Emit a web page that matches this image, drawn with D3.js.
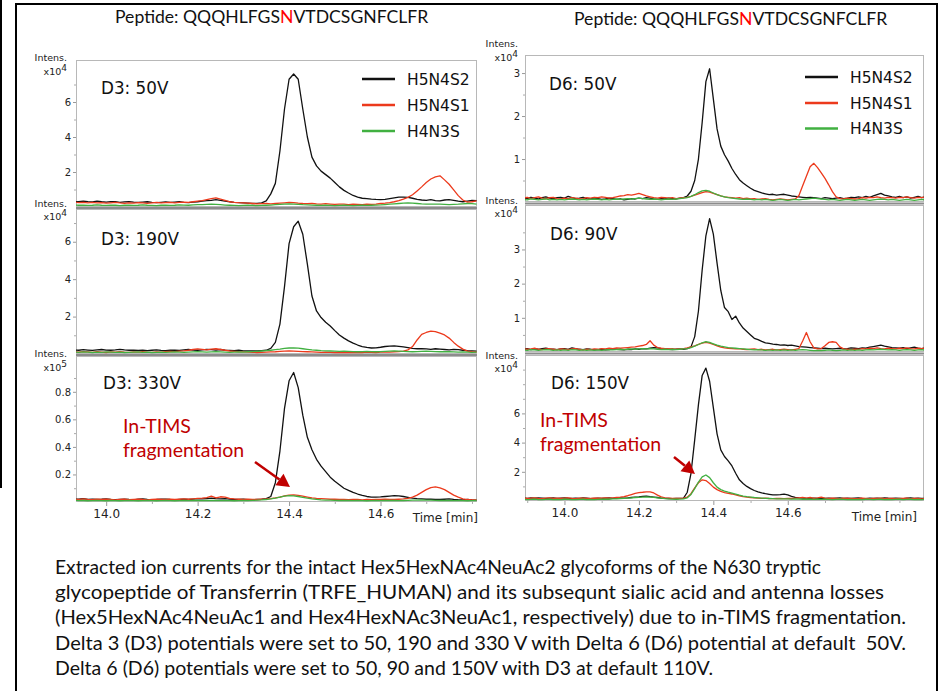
<!DOCTYPE html>
<html lang="en">
<head>
<meta charset="UTF-8">
<title>In-TIMS fragmentation EICs</title>
<script src="https://cdn.jsdelivr.net/npm/d3@7"></script>
<style>
    body { margin: 0; background: #fff; }
    svg { display: block; }
    .tick text { font-family: "DejaVu Sans", sans-serif; }
    .caption { font-family: Lato, "Open Sans", sans-serif; white-space: pre; }
</style>
</head>
<body>
<svg width="943" height="691"></svg>
<script>
// ---------------- data (intensity) ----------------
const seriesNames = ["H5N4S2", "H5N4S1", "H4N3S"];
const seriesColors = ["#111111", "#ec3a1c", "#41b041"];

// retention time grids [min]
const timeLeft = [
    13.93,13.94,13.95,13.96,13.97,13.98,13.99,14.00,14.01,14.02,
    14.03,14.04,14.05,14.06,14.07,14.08,14.09,14.10,14.11,14.12,
    14.13,14.14,14.15,14.16,14.17,14.18,14.19,14.20,14.21,14.22,
    14.23,14.24,14.25,14.26,14.27,14.28,14.29,14.30,14.31,14.32,
    14.33,14.34,14.35,14.36,14.37,14.38,14.39,14.40,14.41,14.42,
    14.43,14.44,14.45,14.46,14.47,14.48,14.49,14.50,14.51,14.52,
    14.53,14.54,14.55,14.56,14.57,14.58,14.59,14.60,14.61,14.62,
    14.63,14.64,14.65,14.66,14.67,14.68,14.69,14.70,14.71,14.72,
    14.73,14.74,14.75,14.76,14.77,14.78,14.79,14.80,14.81];
const timeRight = [
    13.89,13.90,13.91,13.92,13.93,13.94,13.95,13.96,13.97,13.98,
    13.99,14.00,14.01,14.02,14.03,14.04,14.05,14.06,14.07,14.08,
    14.09,14.10,14.11,14.12,14.13,14.14,14.15,14.16,14.17,14.18,
    14.19,14.20,14.21,14.22,14.23,14.24,14.25,14.26,14.27,14.28,
    14.29,14.30,14.31,14.32,14.33,14.34,14.35,14.36,14.37,14.38,
    14.39,14.40,14.41,14.42,14.43,14.44,14.45,14.46,14.47,14.48,
    14.49,14.50,14.51,14.52,14.53,14.54,14.55,14.56,14.57,14.58,
    14.59,14.60,14.61,14.62,14.63,14.64,14.65,14.66,14.67,14.68,
    14.69,14.70,14.71,14.72,14.73,14.74,14.75,14.76,14.77,14.78,
    14.79,14.80,14.81,14.82,14.83,14.84,14.85,14.86,14.87,14.88,
    14.89,14.90,14.91,14.92,14.93,14.94,14.95,14.96,14.97];

// D3: 50V  (x10^4)
const d3v50_S2 = [
    0.32,0.30,0.34,0.31,0.29,0.33,0.30,0.28,0.31,0.30,
    0.27,0.29,0.31,0.28,0.26,0.28,0.30,0.27,0.25,0.27,
    0.29,0.26,0.28,0.30,0.27,0.25,0.28,0.30,0.33,0.36,
    0.38,0.42,0.38,0.33,0.30,0.27,0.25,0.24,0.22,0.20,
    0.21,0.24,0.35,0.75,1.35,3.2,5.6,7.3,7.6,7.3,
    5.6,4.0,2.85,2.35,2.05,1.85,1.65,1.4,1.15,0.95,
    0.8,0.66,0.57,0.5,0.48,0.45,0.43,0.42,0.44,0.48,
    0.52,0.56,0.57,0.55,0.5,0.44,0.4,0.38,0.42,0.37,
    0.35,0.4,0.42,0.38,0.33,0.3,0.34,0.38,0.36];
const d3v50_S1 = [
    0.28,0.25,0.27,0.24,0.26,0.23,0.25,0.22,0.24,0.26,
    0.23,0.21,0.24,0.22,0.25,0.23,0.21,0.24,0.26,0.23,
    0.25,0.27,0.24,0.26,0.28,0.27,0.3,0.33,0.36,0.42,
    0.48,0.52,0.45,0.38,0.3,0.27,0.25,0.24,0.22,0.2,
    0.18,0.19,0.2,0.18,0.2,0.22,0.24,0.26,0.25,0.22,
    0.2,0.19,0.21,0.18,0.17,0.19,0.17,0.15,0.17,0.16,
    0.14,0.16,0.15,0.14,0.16,0.15,0.17,0.2,0.22,0.25,
    0.3,0.36,0.45,0.55,0.7,0.92,1.15,1.4,1.6,1.72,
    1.78,1.55,1.3,0.98,0.65,0.4,0.28,0.3,0.35];
const d3v50_N3 = [
    0.12,0.1,0.11,0.09,0.1,0.12,0.1,0.09,0.11,0.1,
    0.08,0.1,0.11,0.09,0.1,0.12,0.1,0.09,0.08,0.1,
    0.11,0.09,0.1,0.12,0.11,0.1,0.12,0.13,0.14,0.15,
    0.16,0.15,0.13,0.11,0.1,0.09,0.08,0.09,0.1,0.09,
    0.08,0.09,0.1,0.11,0.13,0.15,0.17,0.18,0.17,0.15,
    0.13,0.12,0.11,0.1,0.09,0.1,0.09,0.08,0.09,0.1,
    0.09,0.08,0.09,0.1,0.09,0.1,0.11,0.12,0.14,0.16,
    0.18,0.2,0.22,0.23,0.22,0.2,0.18,0.17,0.16,0.17,
    0.16,0.15,0.14,0.15,0.16,0.18,0.2,0.19,0.17];

// D3: 190V  (x10^4)
const d3v190_S2 = [
    0.22,0.2,0.23,0.21,0.19,0.22,0.24,0.21,0.2,0.22,
    0.25,0.22,0.2,0.21,0.19,0.2,0.18,0.2,0.22,0.19,
    0.18,0.2,0.21,0.19,0.22,0.24,0.21,0.2,0.22,0.25,
    0.23,0.21,0.24,0.2,0.19,0.18,0.2,0.17,0.16,0.17,
    0.16,0.18,0.2,0.3,0.62,1.6,3.6,5.9,6.8,7.1,
    6.4,4.8,3.1,2.3,1.95,1.7,1.5,1.25,1.02,0.85,
    0.7,0.58,0.48,0.4,0.35,0.32,0.33,0.36,0.4,0.42,
    0.43,0.41,0.38,0.34,0.3,0.28,0.29,0.27,0.25,0.28,
    0.26,0.24,0.22,0.25,0.23,0.2,0.18,0.17,0.15];
const d3v190_S1 = [
    0.12,0.1,0.13,0.11,0.09,0.12,0.1,0.08,0.11,0.1,
    0.12,0.1,0.09,0.11,0.1,0.12,0.1,0.09,0.11,0.1,
    0.12,0.14,0.13,0.15,0.17,0.2,0.24,0.27,0.25,0.22,
    0.26,0.28,0.24,0.2,0.16,0.14,0.12,0.11,0.1,0.09,
    0.08,0.09,0.1,0.11,0.12,0.14,0.15,0.16,0.15,0.14,
    0.13,0.12,0.11,0.1,0.09,0.1,0.09,0.08,0.09,0.08,
    0.07,0.08,0.09,0.08,0.1,0.09,0.08,0.1,0.11,0.1,
    0.12,0.13,0.15,0.22,0.4,0.75,1.05,1.15,1.22,1.2,
    1.12,1.02,0.85,0.62,0.42,0.26,0.15,0.12,0.1];
const d3v190_N3 = [
    0.1,0.09,0.11,0.1,0.08,0.1,0.09,0.11,0.1,0.09,
    0.1,0.08,0.09,0.1,0.11,0.09,0.1,0.08,0.09,0.1,
    0.09,0.1,0.11,0.1,0.09,0.1,0.11,0.12,0.11,0.1,
    0.11,0.12,0.11,0.1,0.09,0.1,0.11,0.1,0.12,0.13,
    0.14,0.16,0.18,0.2,0.23,0.26,0.3,0.32,0.33,0.31,
    0.28,0.25,0.22,0.2,0.18,0.17,0.16,0.15,0.14,0.15,
    0.14,0.13,0.12,0.13,0.14,0.13,0.12,0.13,0.14,0.15,
    0.16,0.15,0.14,0.13,0.12,0.13,0.14,0.15,0.14,0.13,
    0.12,0.13,0.12,0.11,0.1,0.11,0.1,0.09,0.1];

// D3: 330V  (x10^5)
const d3v330_S2 = [
    0.022,0.02,0.024,0.019,0.021,0.018,0.02,0.023,0.019,0.017,
    0.019,0.021,0.018,0.016,0.02,0.022,0.019,0.017,0.018,0.02,
    0.021,0.018,0.016,0.019,0.02,0.018,0.021,0.024,0.022,0.025,
    0.028,0.024,0.022,0.025,0.021,0.019,0.018,0.02,0.017,0.016,
    0.018,0.02,0.024,0.04,0.14,0.37,0.68,0.88,0.94,0.83,
    0.63,0.47,0.38,0.31,0.26,0.22,0.18,0.15,0.125,0.1,
    0.085,0.07,0.058,0.048,0.04,0.036,0.035,0.037,0.04,0.043,
    0.046,0.044,0.04,0.034,0.028,0.024,0.022,0.02,0.021,0.019,
    0.018,0.02,0.022,0.019,0.017,0.016,0.018,0.015,0.014];
const d3v330_S1 = [
    0.02,0.018,0.022,0.019,0.017,0.02,0.018,0.021,0.019,0.016,
    0.018,0.02,0.017,0.019,0.021,0.018,0.016,0.019,0.02,0.018,
    0.019,0.021,0.018,0.02,0.022,0.02,0.023,0.026,0.028,0.032,
    0.042,0.03,0.038,0.036,0.027,0.022,0.02,0.018,0.02,0.019,
    0.018,0.02,0.022,0.025,0.03,0.036,0.044,0.05,0.052,0.048,
    0.042,0.036,0.03,0.026,0.024,0.022,0.02,0.021,0.019,0.018,
    0.017,0.019,0.018,0.016,0.018,0.017,0.019,0.018,0.02,0.019,
    0.018,0.02,0.022,0.026,0.035,0.05,0.07,0.09,0.105,0.11,
    0.102,0.09,0.07,0.05,0.035,0.022,0.018,0.016,0.015];
const d3v330_N3 = [
    0.012,0.01,0.011,0.009,0.01,0.012,0.01,0.009,0.011,0.01,
    0.009,0.01,0.011,0.01,0.009,0.01,0.011,0.01,0.009,0.01,
    0.011,0.01,0.009,0.01,0.011,0.01,0.012,0.011,0.01,0.011,
    0.012,0.011,0.01,0.011,0.01,0.009,0.01,0.011,0.01,0.012,
    0.013,0.015,0.018,0.022,0.028,0.035,0.042,0.046,0.045,0.04,
    0.034,0.028,0.023,0.019,0.016,0.014,0.013,0.012,0.011,0.012,
    0.011,0.01,0.011,0.01,0.009,0.01,0.011,0.01,0.011,0.012,
    0.011,0.01,0.011,0.012,0.013,0.014,0.015,0.014,0.013,0.012,
    0.011,0.012,0.011,0.01,0.011,0.01,0.009,0.01,0.011];

// D6: 50V  (x10^4)
const d6v50_S2 = [
    0.1,0.08,0.11,0.09,0.07,0.1,0.12,0.09,0.08,0.1,
    0.11,0.09,0.13,0.1,0.08,0.09,0.11,0.08,0.07,0.09,
    0.08,0.06,0.07,0.09,0.08,0.06,0.07,0.05,0.06,0.08,
    0.07,0.09,0.08,0.1,0.09,0.07,0.06,0.08,0.07,0.09,
    0.08,0.07,0.09,0.1,0.14,0.25,0.5,1.0,1.85,2.8,
    3.1,2.4,1.7,1.3,1.1,0.95,0.78,0.64,0.52,0.44,
    0.38,0.32,0.27,0.24,0.21,0.19,0.17,0.18,0.16,0.17,
    0.18,0.16,0.14,0.13,0.12,0.11,0.1,0.11,0.1,0.09,
    0.08,0.1,0.09,0.08,0.09,0.1,0.08,0.09,0.11,0.1,
    0.12,0.1,0.13,0.11,0.14,0.17,0.2,0.16,0.14,0.12,
    0.11,0.13,0.1,0.12,0.09,0.11,0.13,0.1,0.12];
const d6v50_S1 = [
    0.09,0.11,0.08,0.1,0.12,0.09,0.08,0.1,0.11,0.08,
    0.07,0.09,0.08,0.1,0.09,0.07,0.08,0.1,0.09,0.11,
    0.1,0.12,0.11,0.09,0.1,0.12,0.14,0.15,0.17,0.16,
    0.18,0.2,0.17,0.14,0.12,0.1,0.09,0.11,0.1,0.09,
    0.1,0.08,0.09,0.1,0.11,0.13,0.16,0.19,0.22,0.24,
    0.23,0.2,0.17,0.14,0.12,0.11,0.1,0.09,0.1,0.08,
    0.09,0.07,0.08,0.06,0.07,0.08,0.06,0.05,0.06,0.07,
    0.06,0.05,0.06,0.07,0.15,0.38,0.6,0.82,0.9,0.8,
    0.68,0.55,0.4,0.24,0.12,0.08,0.07,0.09,0.08,0.07,
    0.08,0.1,0.09,0.11,0.1,0.12,0.1,0.09,0.11,0.1,
    0.09,0.11,0.1,0.12,0.1,0.09,0.11,0.1,0.12];
const d6v50_N3 = [
    0.06,0.05,0.07,0.06,0.05,0.06,0.07,0.05,0.06,0.05,
    0.06,0.05,0.06,0.07,0.06,0.05,0.06,0.05,0.06,0.07,
    0.06,0.05,0.06,0.05,0.06,0.07,0.06,0.07,0.08,0.07,
    0.08,0.09,0.08,0.07,0.06,0.07,0.06,0.05,0.06,0.07,
    0.06,0.07,0.08,0.09,0.1,0.13,0.17,0.22,0.26,0.27,
    0.25,0.21,0.17,0.14,0.12,0.1,0.09,0.08,0.07,0.06,
    0.07,0.06,0.05,0.06,0.05,0.06,0.05,0.04,0.05,0.06,
    0.05,0.04,0.05,0.06,0.05,0.06,0.07,0.08,0.09,0.08,
    0.07,0.06,0.05,0.06,0.05,0.04,0.05,0.06,0.05,0.04,
    0.05,0.06,0.05,0.04,0.05,0.06,0.07,0.06,0.05,0.06,
    0.05,0.04,0.05,0.06,0.05,0.04,0.05,0.06,0.05];

// D6: 90V  (x10^4)
const d6v90_S2 = [
    0.08,0.1,0.07,0.09,0.08,0.1,0.11,0.09,0.08,0.07,
    0.09,0.1,0.08,0.12,0.1,0.08,0.07,0.09,0.08,0.06,
    0.07,0.08,0.06,0.07,0.09,0.08,0.07,0.06,0.08,0.07,
    0.09,0.08,0.1,0.09,0.11,0.13,0.12,0.1,0.09,0.08,
    0.07,0.08,0.09,0.08,0.1,0.15,0.45,1.2,2.4,3.4,
    3.9,3.45,2.6,1.8,1.3,1.18,0.95,1.05,0.85,0.7,
    0.6,0.5,0.4,0.36,0.31,0.27,0.25,0.23,0.22,0.2,
    0.21,0.19,0.2,0.18,0.16,0.15,0.14,0.13,0.12,0.11,
    0.1,0.11,0.1,0.09,0.1,0.11,0.09,0.1,0.12,0.11,
    0.1,0.12,0.11,0.14,0.16,0.18,0.2,0.17,0.15,0.13,
    0.12,0.11,0.13,0.1,0.12,0.14,0.11,0.1,0.12];
const d6v90_S1 = [
    0.1,0.08,0.09,0.11,0.08,0.07,0.09,0.1,0.08,0.07,
    0.09,0.08,0.07,0.09,0.1,0.08,0.06,0.08,0.07,0.09,
    0.08,0.1,0.09,0.11,0.1,0.12,0.11,0.12,0.13,0.14,
    0.15,0.17,0.19,0.22,0.33,0.2,0.13,0.11,0.1,0.09,
    0.1,0.08,0.09,0.1,0.12,0.15,0.18,0.22,0.26,0.28,
    0.26,0.22,0.18,0.14,0.12,0.11,0.1,0.09,0.1,0.08,
    0.07,0.08,0.09,0.07,0.08,0.06,0.07,0.08,0.06,0.07,
    0.08,0.07,0.06,0.08,0.1,0.32,0.57,0.3,0.12,0.09,
    0.1,0.18,0.28,0.3,0.28,0.15,0.09,0.08,0.07,0.08,
    0.08,0.1,0.09,0.11,0.1,0.12,0.1,0.09,0.11,0.1,
    0.09,0.11,0.1,0.12,0.1,0.09,0.11,0.1,0.12];
const d6v90_N3 = [
    0.06,0.05,0.07,0.06,0.05,0.06,0.07,0.06,0.05,0.06,
    0.05,0.06,0.05,0.07,0.06,0.05,0.06,0.05,0.06,0.05,
    0.06,0.05,0.06,0.07,0.06,0.07,0.08,0.07,0.08,0.09,
    0.08,0.09,0.1,0.09,0.1,0.09,0.08,0.07,0.08,0.07,
    0.08,0.07,0.08,0.09,0.1,0.13,0.17,0.22,0.27,0.3,
    0.28,0.24,0.2,0.17,0.15,0.13,0.12,0.11,0.1,0.09,
    0.08,0.07,0.06,0.07,0.06,0.05,0.06,0.05,0.06,0.05,
    0.06,0.05,0.06,0.05,0.06,0.07,0.06,0.05,0.04,0.05,
    0.04,0.05,0.06,0.05,0.04,0.05,0.06,0.05,0.06,0.05,
    0.06,0.05,0.06,0.07,0.06,0.07,0.08,0.07,0.06,0.07,
    0.06,0.05,0.06,0.07,0.06,0.05,0.06,0.07,0.06];

// D6: 150V  (x10^4)
const d6v150_S2 = [
    0.2,0.18,0.21,0.19,0.22,0.2,0.17,0.19,0.21,0.18,
    0.2,0.22,0.19,0.17,0.2,0.18,0.21,0.19,0.16,0.18,
    0.2,0.17,0.19,0.21,0.18,0.2,0.22,0.19,0.21,0.24,
    0.26,0.28,0.32,0.34,0.3,0.27,0.24,0.2,0.18,0.17,
    0.16,0.17,0.18,0.2,0.6,1.9,4.2,6.6,8.6,9.1,
    8.2,6.4,4.6,3.5,3.05,2.75,2.4,1.9,1.45,1.2,
    1.0,0.85,0.72,0.62,0.55,0.5,0.46,0.42,0.42,0.44,
    0.47,0.42,0.32,0.25,0.22,0.2,0.18,0.17,0.19,0.18,
    0.16,0.18,0.2,0.17,0.19,0.21,0.18,0.2,0.17,0.19,
    0.21,0.18,0.16,0.19,0.17,0.2,0.18,0.22,0.19,0.17,
    0.2,0.18,0.16,0.19,0.21,0.18,0.2,0.17,0.19];
const d6v150_S1 = [
    0.2,0.17,0.19,0.22,0.18,0.16,0.19,0.21,0.18,0.2,
    0.17,0.19,0.21,0.18,0.16,0.19,0.2,0.18,0.17,0.19,
    0.2,0.19,0.21,0.2,0.22,0.24,0.26,0.3,0.36,0.44,
    0.52,0.58,0.6,0.63,0.62,0.55,0.4,0.28,0.22,0.2,
    0.18,0.17,0.18,0.2,0.26,0.5,0.9,1.25,1.45,1.4,
    1.2,0.95,0.78,0.66,0.58,0.52,0.48,0.42,0.36,0.3,
    0.26,0.24,0.22,0.2,0.18,0.19,0.17,0.16,0.18,0.17,
    0.16,0.18,0.17,0.19,0.22,0.25,0.2,0.24,0.18,0.21,
    0.26,0.19,0.17,0.2,0.18,0.16,0.19,0.17,0.18,0.16,
    0.17,0.19,0.18,0.16,0.18,0.17,0.19,0.16,0.18,0.17,
    0.16,0.18,0.17,0.19,0.16,0.18,0.17,0.15,0.17];
const d6v150_N3 = [
    0.12,0.1,0.11,0.13,0.1,0.09,0.11,0.12,0.1,0.11,
    0.1,0.12,0.11,0.1,0.09,0.11,0.12,0.1,0.11,0.1,
    0.11,0.12,0.13,0.12,0.14,0.15,0.17,0.18,0.2,0.22,
    0.24,0.25,0.27,0.28,0.27,0.25,0.22,0.19,0.16,0.14,
    0.13,0.12,0.13,0.15,0.22,0.45,0.85,1.3,1.65,1.78,
    1.6,1.25,0.95,0.78,0.68,0.6,0.54,0.47,0.4,0.34,
    0.3,0.27,0.24,0.22,0.2,0.18,0.17,0.16,0.15,0.14,
    0.15,0.14,0.13,0.14,0.13,0.12,0.13,0.12,0.11,0.12,
    0.11,0.12,0.11,0.1,0.11,0.12,0.11,0.1,0.11,0.1,
    0.11,0.1,0.12,0.11,0.1,0.11,0.12,0.1,0.11,0.1,
    0.11,0.12,0.1,0.11,0.12,0.1,0.11,0.1,0.11];

// tick labels
const timeTicks = [14.0, 14.2, 14.4, 14.6];
const peptideParts = ["Peptide: QQQHLFGS", "N", "VTDCSGNFCLFR"];
const captionLines = [
    "Extracted ion currents for the intact Hex5HexNAc4NeuAc2 glycoforms of the N630 tryptic",
    "glycopeptide of Transferrin (TRFE_HUMAN) and its subsequnt sialic acid and antenna losses",
    "(Hex5HexNAc4NeuAc1 and Hex4HexNAc3NeuAc1, respectively) due to in-TIMS fragmentation.",
    "Delta 3 (D3) potentials were set to 50, 190 and 330 V with Delta 6 (D6) potential at default  50V.",
    "Delta 6 (D6) potentials were set to 50, 90 and 150V with D3 at default 110V."
];

// ---------------- layout ----------------
const svg = d3.select("svg");
const sides = {
    L: {range: [76, 477], domain: [13.934, 14.811], times: timeLeft, title: 115, titleY: 23,
        legX: 362, legY: [79, 105, 131], intensX: 67},
    R: {range: [525, 924], domain: [13.894, 14.966], times: timeRight, title: 574, titleY: 25,
        legX: 805, legY: [77, 103, 128.5], intensX: 518}
};

const panels = [
    {side: "L", top: 60, bottom: 207, ymax: 8.4, exp: "4", ticks: [2,4,6], minor: [1,3,5,7],
     label: "D3: 50V", lx: 101, ly: 94, iy: 61, series: [d3v50_S2, d3v50_S1, d3v50_N3], legend: true},
    {side: "L", top: 209, bottom: 354, ymax: 7.75, exp: "4", ticks: [2,4,6], minor: [1,3,5,7],
     label: "D3: 190V", lx: 101, ly: 245, iy: 206.5, series: [d3v190_S2, d3v190_S1, d3v190_N3]},
    {side: "L", top: 356, bottom: 502, ymax: 1.06, exp: "5", ticks: [0.2,0.4,0.6,0.8], minor: [0.1,0.3,0.5,0.7,0.9],
     label: "D3: 330V", lx: 103, ly: 388.5, iy: 357, series: [d3v330_S2, d3v330_S1, d3v330_N3], axis: true,
     note: {x: 123, y: 433, arrow: [255, 462, 290, 487]}},
    {side: "R", top: 55, bottom: 202, ymax: 3.42, exp: "4", ticks: [1,2,3], minor: [0.5,1.5,2.5],
     label: "D6: 50V", lx: 549, ly: 90, iy: 47, series: [d6v50_S2, d6v50_S1, d6v50_N3], legend: true},
    {side: "R", top: 205, bottom: 352, ymax: 4.3, exp: "4", ticks: [1,2,3], minor: [0.5,1.5,2.5,3.5],
     label: "D6: 90V", lx: 550, ly: 240, iy: 203.5, series: [d6v90_S2, d6v90_S1, d6v90_N3]},
    {side: "R", top: 355, bottom: 501, ymax: 10, exp: "4", ticks: [2,4,6], minor: [1,3,5,7,8,9],
     label: "D6: 150V", lx: 551, ly: 388.5, iy: 358.5, series: [d6v150_S2, d6v150_S1, d6v150_N3], axis: true,
     note: {x: 540, y: 427, arrow: [674, 457, 695, 474]}}
];

// outer frame
svg.append("line").attr("x1", 1).attr("x2", 1).attr("y1", 0).attr("y2", 488)
    .attr("stroke", "#000").attr("stroke-width", 2);
svg.append("path").attr("d", "M16,691V4H937V691")
    .attr("fill", "none").attr("stroke", "#000").attr("stroke-width", 2);

// titles
Object.values(sides).forEach(s => {
    const t = svg.append("text").attr("x", s.title).attr("y", s.titleY)
        .attr("font-family", "Lato, 'Open Sans', sans-serif").attr("font-size", 17.6).attr("fill", "#111");
    peptideParts.forEach((p, i) => t.append("tspan").text(p).attr("fill", i === 1 ? "#ff0000" : "#111"));
});

const defs = svg.append("defs");

panels.forEach((p, pi) => {
    const s = sides[p.side];
    const x = d3.scaleLinear().domain(s.domain).range(s.range);
    const y = d3.scaleLinear().domain([0, p.ymax]).range([p.bottom, p.top]);
    const g = svg.append("g");

    defs.append("clipPath").attr("id", "clip" + pi).append("rect")
        .attr("x", s.range[0]).attr("y", p.top)
        .attr("width", s.range[1] - s.range[0]).attr("height", p.bottom - p.top);

    // plot box
    g.append("rect").attr("x", s.range[0] + 0.5).attr("y", p.top + 0.5)
        .attr("width", s.range[1] - s.range[0] - 1).attr("height", p.bottom - p.top - 1)
        .attr("fill", "none").attr("stroke", "#b8b8b8").attr("stroke-width", 1);

    // y axis
    const fmt = p.ymax < 2 ? d3.format(".1f") : d3.format("d");
    const ya = g.append("g").attr("transform", `translate(${s.range[0]},0)`)
        .call(d3.axisLeft(y).tickValues(p.ticks).tickSize(3).tickPadding(2).tickFormat(fmt));
    ya.select(".domain").remove();
    ya.selectAll("line").attr("stroke", "#999");
    ya.selectAll("text").attr("font-size", 10).attr("fill", "#222");
    const ym = g.append("g").attr("transform", `translate(${s.range[0]},0)`)
        .call(d3.axisLeft(y).tickValues(p.minor).tickSize(2).tickFormat(""));
    ym.select(".domain").remove();
    ym.selectAll("line").attr("stroke", "#aaa");

    // Intens. label
    const it = g.append("g").attr("font-family", "'DejaVu Sans', sans-serif").attr("fill", "#222")
        .attr("text-anchor", "end");
    it.append("text").attr("x", s.intensX).attr("y", p.iy).attr("font-size", 9.5).text("Intens.");
    const ex = it.append("text").attr("x", s.intensX).attr("y", p.iy + 13.5).attr("font-size", 9.5);
    ex.append("tspan").text("x10");
    ex.append("tspan").attr("dy", -4).attr("font-size", 9).text(p.exp);

    // traces
    const traces = g.append("g").attr("clip-path", `url(#clip${pi})`);
    p.series.forEach((vals, si) => {
        const pts = vals.map((v, i) => [s.times[i], v]);
        traces.append("path").datum(pts)
            .attr("d", d3.line().x(d => x(d[0])).y(d => y(d[1])))
            .attr("fill", "none").attr("stroke", seriesColors[si])
            .attr("stroke-width", 1.3).attr("stroke-linejoin", "round");
    });

    // panel label
    g.append("text").attr("x", p.lx).attr("y", p.ly)
        .attr("font-family", "'DejaVu Sans', sans-serif").attr("font-size", 16.8).attr("fill", "#111")
        .text(p.label);

    // legend
    if (p.legend) {
        seriesNames.forEach((n, si) => {
            const ly = s.legY[si];
            g.append("line").attr("x1", s.legX).attr("x2", s.legX + 33).attr("y1", ly).attr("y2", ly)
                .attr("stroke", seriesColors[si]).attr("stroke-width", 2.6);
            g.append("text").attr("x", s.legX + 45).attr("y", ly + 5.5)
                .attr("font-family", "'DejaVu Sans', sans-serif").attr("font-size", 15.5).attr("fill", "#111")
                .text(n);
        });
    }

    // x axis on the lowest panel
    if (p.axis) {
        const xa = g.append("g").attr("transform", `translate(0,${p.bottom})`)
            .call(d3.axisBottom(x).tickValues(timeTicks).tickSize(4).tickPadding(3).tickFormat(d3.format(".1f")));
        xa.select(".domain").remove();
        xa.selectAll("line").attr("stroke", "#999");
        xa.selectAll("text").attr("font-size", 12).attr("fill", "#222");
        const minorT = x.ticks(12).filter(t => !timeTicks.some(m => Math.abs(m - t) < 1e-6));
        const xm = g.append("g").attr("transform", `translate(0,${p.bottom})`)
            .call(d3.axisBottom(x).tickValues(minorT).tickSize(2).tickFormat(""));
        xm.select(".domain").remove();
        xm.selectAll("line").attr("stroke", "#aaa");
        g.append("text").attr("x", p.side === "L" ? s.range[1] + 1 : s.range[1] - 7).attr("y", p.bottom + 20)
            .attr("text-anchor", "end").attr("font-family", "'DejaVu Sans', sans-serif")
            .attr("font-size", 12).attr("fill", "#222").text("Time [min]");
    }

    // In-TIMS annotation
    if (p.note) {
        const nt = g.append("g").attr("fill", "#c00000").attr("font-family", "Lato, 'Open Sans', sans-serif")
            .attr("font-size", 19.5);
        nt.append("text").attr("x", p.note.x).attr("y", p.note.y).text("In-TIMS");
        nt.append("text").attr("x", p.note.x).attr("y", p.note.y + 23.5).text("fragmentation");
        const [x1, y1, x2, y2] = p.note.arrow;
        const a = Math.atan2(y2 - y1, x2 - x1), hl = 13, hw = 7;
        const bx = x2 - hl * Math.cos(a), by = y2 - hl * Math.sin(a);
        g.append("line").attr("x1", x1).attr("y1", y1).attr("x2", bx).attr("y2", by)
            .attr("stroke", "#c00000").attr("stroke-width", 2.5);
        g.append("path").attr("fill", "#c00000")
            .attr("d", `M${x2},${y2}L${bx + hw * Math.sin(a)},${by - hw * Math.cos(a)}L${bx - hw * Math.sin(a)},${by + hw * Math.cos(a)}Z`);
    }
});

// separators between stacked panels
[["L", 0, 1], ["L", 1, 2], ["R", 3, 4], ["R", 4, 5]].forEach(([side, a, b]) => {
    const s = sides[side];
    const yy = (panels[a].bottom + panels[b].top) / 2;
    svg.append("line").attr("x1", s.range[0]).attr("x2", s.range[1]).attr("y1", yy).attr("y2", yy)
        .attr("stroke", "#8c8c8c").attr("stroke-width", 2.2);
});

// caption
const capWidths = [766, 829, 851, 851, 658];
captionLines.forEach((line, i) => {
    svg.append("text").attr("class", "caption").attr("x", 55).attr("y", 574 + i * 25.2)
        .attr("font-size", 19).attr("fill", "#111")
        .attr("textLength", capWidths[i]).attr("lengthAdjust", "spacingAndGlyphs")
        .text(line);
});
</script>
</body>
</html>
